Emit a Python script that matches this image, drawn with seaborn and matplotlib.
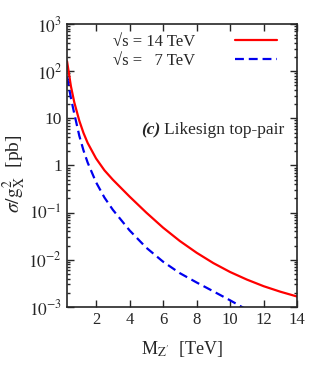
import matplotlib
matplotlib.use("Agg")
import matplotlib.pyplot as plt
import numpy as np
import pandas as pd
import seaborn as sns
from matplotlib.ticker import FixedLocator, LogLocator, NullFormatter

# values (sigma / g_X^2 in pb)
mass_14 = [0.27, 0.4, 0.5, 0.7, 1.0, 1.25, 1.5, 2.0, 2.5, 3.0, 4.0, 5.0, 6.0, 7.0, 8.0, 9.0, 10.0, 11.0, 12.0, 13.0, 14.0]
xsec_14 = [162, 81, 47.9, 21.9, 8.9, 4.9, 3.0, 1.41, 0.79, 0.50, 0.219, 0.100, 0.048, 0.025, 0.0141,
           0.0085, 0.0055, 0.0038, 0.00275, 0.0021, 0.00166]
mass_7 = [0.27, 0.4, 0.5, 0.7, 1.0, 1.25, 1.5, 2.0, 2.5, 3.0, 4.0, 5.0, 6.0, 7.0, 8.0, 9.0, 10.0, 11.0, 12.0]
xsec_7 = [76, 42, 26.9, 12.6, 4.27, 2.09, 1.15, 0.44, 0.209, 0.115, 0.042, 0.018, 0.0091, 0.0052, 0.0033,
          0.00214, 0.00138, 0.00087, 0.00054]

x_ticks = [2, 4, 6, 8, 10, 12, 14]
y_ticks = [1e-3, 1e-2, 1e-1, 1, 10, 1e2, 1e3]
y_labels = ["$10^{-3}$", "$10^{-2}$", "$10^{-1}$", "1", "10", "$10^{2}$", "$10^{3}$"]

df = pd.concat([
    pd.DataFrame({"m": mass_14, "xs": xsec_14, "run": "\u221as = 14 TeV"}),
    pd.DataFrame({"m": mass_7, "xs": xsec_7, "run": "\u221as =   7 TeV"}),
])

sns.set_style("ticks")
plt.rcParams["font.family"] = ["Liberation Serif", "DejaVu Serif"]
plt.rcParams["mathtext.fontset"] = "stix"

fig = plt.figure(figsize=(3.32, 3.88), dpi=100)
ax = fig.add_axes([0.202, 0.209, 0.693, 0.729])

sns.lineplot(data=df, x="m", y="xs", hue="run", style="run",
             palette=["#ff0000", "#0000ee"], dashes=[(None, None), (4, 2.2)],
             linewidth=1.6, ax=ax, legend=True)

ax.set_yscale("log")
ax.set_xlim(0.27, 14)
ax.set_ylim(1e-3, 1e3)
ax.xaxis.set_major_locator(FixedLocator(x_ticks))
ax.set_xticklabels([str(t) for t in x_ticks], fontsize=12)
ax.yaxis.set_major_locator(FixedLocator(y_ticks))
ax.set_yticklabels(y_labels, fontsize=12.5)
ax.yaxis.set_minor_locator(LogLocator(base=10, subs=np.arange(2, 10)))
ax.yaxis.set_minor_formatter(NullFormatter())
ax.tick_params(which="both", direction="in", top=True, right=True, width=1)
ax.tick_params(which="major", length=5)
ax.tick_params(which="minor", length=2.5)
for s in ax.spines.values():
    s.set_linewidth(1.2)

ax.set_xlabel(r"M$_{\rm Z'}$  [TeV]", fontsize=13, labelpad=8)
ax.set_ylabel(r"$\sigma/{\rm g}_{\rm X}^{2}$  [pb]", fontsize=14)
ax.yaxis.set_label_coords(-0.17, 0.47)

leg = ax.legend(loc="upper right", bbox_to_anchor=(0.955, 1.0), frameon=False,
                markerfirst=False, fontsize=12, handlelength=2.5,
                handletextpad=2.4, borderaxespad=0.2, labelspacing=0.15)
leg.set_title(None)

ax.text(0.405, 0.625, "(c)", transform=ax.transAxes, fontsize=12.5,
        fontweight="bold", fontstyle="italic", ha="right", va="center")
ax.text(0.42, 0.625, "Likesign top-pair", transform=ax.transAxes,
        fontsize=12.5, ha="left", va="center")

fig.savefig("out.png", dpi=100)
